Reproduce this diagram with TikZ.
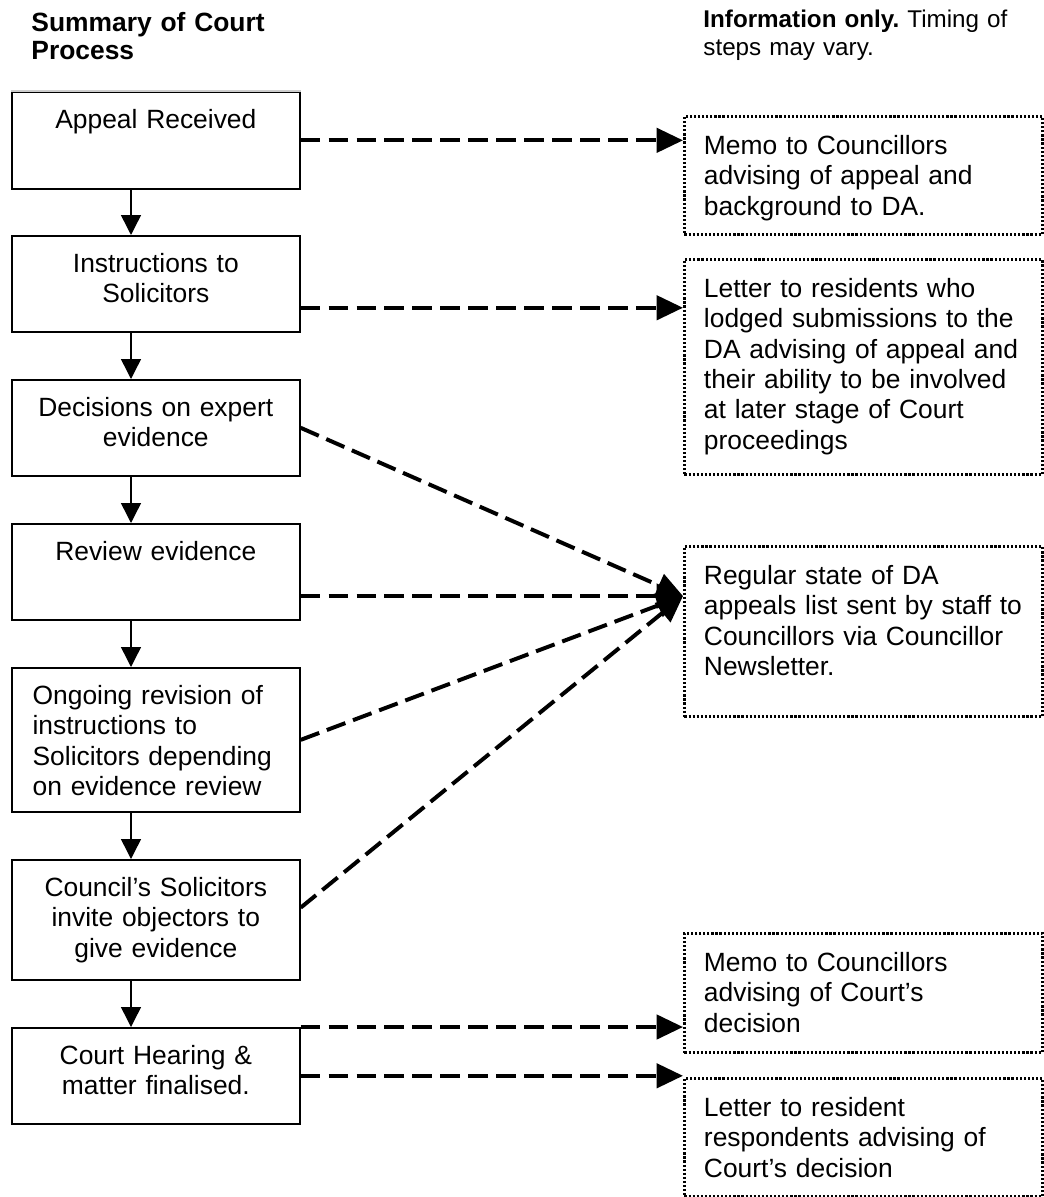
\documentclass[tikz,border=0pt]{standalone}
\usepackage{fontspec}
\setmainfont{Liberation Sans}
\usepackage{tikz}
\usetikzlibrary{arrows.meta}
\definecolor{faded}{RGB}{205, 205, 205}
\frenchspacing

\begin{document}
\begin{tikzpicture}[x=0.4545pt, y=-0.4545pt, % 1 unidade = 1 pixel da pagina
	% caixas do processo (coluna da esquerda)
	stepbox/.style={draw, line width=0.75pt, anchor=north west,
		text width=120pt, inner xsep=5.45pt, inner ysep=7.5pt,
		align=center, text height=9pt,
		font=\fontsize{12pt}{13.9pt}\selectfont},
	% caixas pontilhadas (coluna da direita)
	notebox/.style={draw, line width=1.35pt, dash pattern=on 1pt off 0.85pt,
		anchor=north west, text width=145pt, inner xsep=8.85pt, inner ysep=8.2pt,
		align=left, text height=9pt,
		font=\fontsize{12pt}{13.8pt}\selectfont},
	flow/.style={line width=0.65pt, -{Triangle[length=9pt, width=9pt]}}, % setas cheias
	inform/.style={line width=1.8pt, dash pattern=on 9pt off 3.7pt,
		-{Triangle[length=12pt, width=11pt]}}, % setas tracejadas
	]
\useasboundingbox (0,0) rectangle (1043,1197);

% titulos
\node[anchor=base west, text width=160pt, align=left, inner sep=0pt,
	font=\bfseries\fontsize{12pt}{12.6pt}\selectfont] (title) at (31,32)
	{Summary of Court\\Process};
\node[anchor=base west, text width=160pt, align=left, inner sep=0pt,
	font=\fontsize{11pt}{12.7pt}\selectfont] (remark) at (703,28)
	{\textbf{Information only.} Timing of\\steps may vary.};

% processo
\node[stepbox, text depth=20.1pt] (appeal) at (11,91) {Appeal Received};
\node[stepbox, text depth=19.6pt] (instr) at (11,235) {Instructions to\\Solicitors};
\node[stepbox, text depth=19.6pt] (expert) at (11,379) {Decisions on expert\\evidence};
\node[stepbox, text depth=19.6pt] (review) at (11,523) {Review evidence};
\node[stepbox, text depth=41.5pt, align=left, text width=112pt, inner xsep=9.45pt] (revise) at (11,667)
	{Ongoing revision of\\instructions to\\Solicitors depending\\on evidence review};
\node[stepbox, text depth=30.5pt] (invite) at (11,859) {Council’s Solicitors\\invite objectors to\\give evidence};
\node[stepbox, text depth=19.6pt] (court) at (11,1027) {Court Hearing \&\\matter finalised.};
\draw[faded, line width=0.9pt] (appeal.north west) -- (appeal.north east); % borda superior clara

% informacao
\node[notebox, text depth=28.2pt] (memo) at (683,115)
	{Memo to Councillors\\advising of appeal and\\background to DA.};
\node[notebox, text depth=72.3pt] (letter) at (683,258)
	{Letter to residents who\\lodged submissions to the\\DA advising of appeal and\\their ability to be involved\\at later stage of Court\\proceedings};
\node[notebox, text depth=51.9pt] (state) at (683,545)
	{Regular state of DA\\appeals list sent by staff to\\Councillors via Councillor\\Newsletter.};
\node[notebox, text depth=28.7pt] (memodecision) at (683,932)
	{Memo to Councillors\\advising of Court’s\\decision};
\node[notebox, text depth=28.2pt] (letterdecision) at (683,1077)
	{Letter to resident\\respondents advising of\\Court’s decision};

% setas do processo
\coordinate (spine) at (131,0);
\draw[flow] (appeal.south -| spine) -- (instr.north -| spine);
\draw[flow] (instr.south -| spine) -- (expert.north -| spine);
\draw[flow] (expert.south -| spine) -- (review.north -| spine);
\draw[flow] (review.south -| spine) -- (revise.north -| spine);
\draw[flow] (revise.south -| spine) -- (invite.north -| spine);
\draw[flow] (invite.south -| spine) -- (court.north -| spine);

% setas de informacao
\coordinate (hub) at ([yshift=-23.2pt]state.north west);
\coordinate (instrout) at ([yshift=-10.9pt]instr.east);
\coordinate (inviteout) at ([yshift=5.5pt]invite.east);
\draw[inform] (appeal.east) -- (appeal.east -| memo.west);
\draw[inform] (instrout) -- (instrout -| letter.west);
\draw[inform] (expert.east) -- (hub);
\draw[inform] (review.east |- hub) -- (hub);
\draw[inform] (revise.east) -- (hub);
\draw[inform] (inviteout) -- (hub);
\draw[inform] (court.north east) -- (court.north east -| memodecision.west);
\draw[inform] (court.east) -- (court.east -| letterdecision.west);
\end{tikzpicture}
\end{document}
